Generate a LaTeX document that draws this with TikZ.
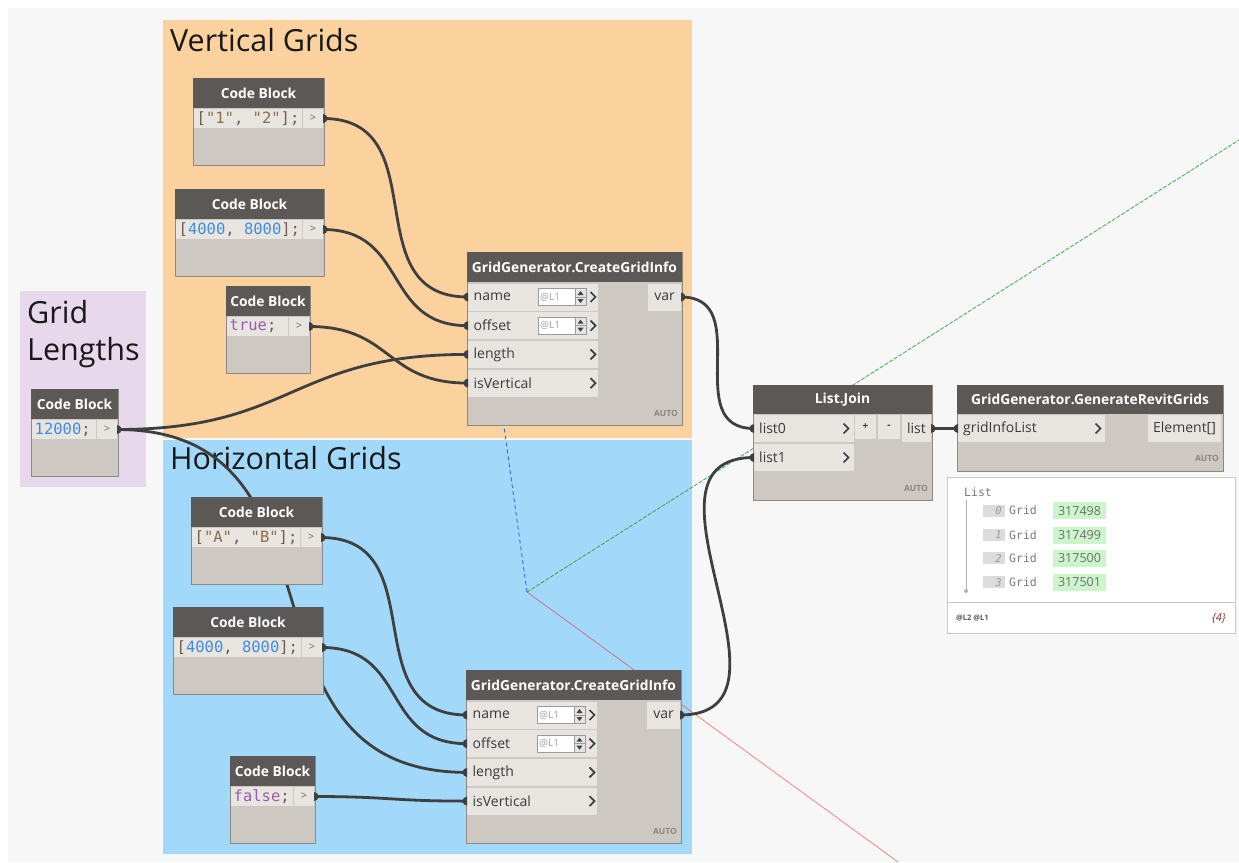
\documentclass[tikz,border=0pt]{standalone}
\usepackage{fontspec}
\setmainfont{Open Sans}
\newfontfamily\codefont{DejaVu Sans Mono}
\pgfdeclarelayer{groups}
\pgfdeclarelayer{wires}
\pgfsetlayers{groups,wires,main}
\definecolor{canvas}{HTML}{F7F7F7}
\definecolor{grpO}{HTML}{FBD29E}
\definecolor{grpB}{HTML}{A2D8F9}
\definecolor{grpL}{HTML}{E7D8EB}
\definecolor{hdrc}{HTML}{5B5856}
\definecolor{nbodyc}{HTML}{CDC8C1}
\definecolor{rowc}{HTML}{E8E5E1}
\definecolor{nborder}{HTML}{8C8883}
\definecolor{wirec}{HTML}{3F3F3F}
\definecolor{labc}{HTML}{3A3A3A}
\definecolor{chevc}{HTML}{3A3D44}
\definecolor{autoc}{HTML}{8A8580}
\definecolor{outgray}{HTML}{6A6A6A}
\definecolor{cstr}{HTML}{8C6D46}
\definecolor{cpunct}{HTML}{6A5C4E}
\definecolor{cnum}{HTML}{3F8BE0}
\definecolor{cbool}{HTML}{9B5BB0}
\definecolor{lacec}{HTML}{9A9A9A}
\definecolor{spinbg}{HTML}{E4E4E4}
\definecolor{lacetc}{HTML}{A0A0A0}
\definecolor{watchbd}{HTML}{C8C8C8}
\definecolor{idxc}{HTML}{DCDCDC}
\definecolor{idxtc}{HTML}{9A9A9A}
\definecolor{valc}{HTML}{CCF5CC}
\definecolor{valtc}{HTML}{6E6E6E}
\definecolor{listtc}{HTML}{7A7A7A}
\definecolor{countc}{HTML}{8B2E2E}
\definecolor{axblue}{HTML}{2A5BFF}
\definecolor{axgreen}{HTML}{1E9E2A}
\definecolor{axred}{HTML}{FF1E1E}
\newcommand\hdrfont{\bfseries\fontsize{13.8}{15}\selectfont}
\newcommand\portfont{\fontsize{14}{16}\selectfont}
\newcommand\codesize{\codefont\fontsize{15.5}{17}\selectfont}
\newcommand\autofont{\bfseries\fontsize{8.5}{9}\selectfont}
\newcommand\titlefont{\fontsize{30.5}{32}\selectfont}
\tikzset{
  nbody/.style={draw=nborder, line width=1pt, fill=nbodyc, anchor=north west, inner sep=0pt, outer sep=0pt},
  nhdr/.style={fill=hdrc, text=white, anchor=north west, inner sep=0pt, outer sep=0pt, font=\hdrfont},
  crow/.style={fill=rowc, minimum height=19pt, anchor=north west, inner sep=0pt, outer sep=0pt},
  prow/.style={fill=rowc, minimum height=27pt, anchor=north west, inner sep=0pt, outer sep=0pt, font=\portfont, text=labc},
  plabel/.style={anchor=west, inner sep=0pt, font=\portfont, text=labc},
  codetxt/.style={anchor=west, inner sep=0pt, font=\codesize},
  autotxt/.style={anchor=east, inner sep=0pt, font=\autofont, text=autoc},
  chevst/.style={draw=chevc, line width=1.7pt},
  wirest/.style={draw=wirec, line width=2.8pt},
  gtitle/.style={anchor=base west, inner sep=0pt, font=\titlefont, text=black!90},
  lacebd/.style={draw=lacec, line width=0.6pt},
  lacetxt/.style={anchor=west, inner sep=0pt, font=\fontsize{10}{11}\selectfont, text=lacetc},
  grp/.style={anchor=north west, inner sep=0pt, outer sep=0pt},
  idxbox/.style={fill=idxc, minimum width=22pt, minimum height=12pt, inner sep=0pt},
  idxtxt/.style={anchor=east, inner sep=0pt, font=\codefont\itshape\fontsize{10.5}{11}\selectfont, text=idxtc},
  gridtxt/.style={anchor=west, inner sep=0pt, font=\codefont\fontsize{11.5}{12}\selectfont, text=listtc},
  valbox/.style={fill=valc, minimum width=53pt, minimum height=17pt, inner sep=0pt, font=\fontsize{12.5}{13}\selectfont, text=valtc},
}
\newcommand\outport[1]{\fill[wirec] ([yshift=4.5pt]#1) arc[start angle=90,end angle=-90,radius=4.5pt] -- cycle;}
\newcommand\inport[1]{\fill[wirec] ([yshift=4.5pt]#1) arc[start angle=90,end angle=270,radius=4.5pt] -- cycle;}
\newcommand\chev[2]{\draw[chevst] ({#1-3.5},{#2-5}) -- ({#1+1.5},{#2}) -- ({#1-3.5},{#2+5});}
\newcommand\lacing[3]{%
  \draw[lacebd, fill=white] (#1,#2) rectangle ({#1+48},{#2+17});
  \node[lacetxt] (#3) at ({#1+2},{#2+8.5}) {@L1};
  \draw[lacebd, fill=spinbg] ({#1+37},#2) rectangle ({#1+48},{#2+17});
  \draw[lacebd] ({#1+37},{#2+8.5}) -- ({#1+48},{#2+8.5});
  \fill[black!75] ({#1+42.5},{#2+2.5}) -- ({#1+39.5},{#2+6.5}) -- ({#1+45.5},{#2+6.5}) -- cycle;
  \fill[black!75] ({#1+42.5},{#2+14.5}) -- ({#1+39.5},{#2+10.5}) -- ({#1+45.5},{#2+10.5}) -- cycle;
}
\newcommand\cblock[5]{%
  \node[nbody, minimum width=#4pt, minimum height=87pt] (#1) at (#2,#3) {};
  \node[nhdr, minimum width=#4pt, minimum height=30pt] (#1-h) at (#2,#3) {Code Block};
  \node[crow, minimum width=#4pt-23pt] (#1-row) at ({#2+1},{#3+31}) {};
  \node[codetxt] (#1-code) at ([xshift=2.5pt]#1-row.west) {#5};
  \node[crow, minimum width=20pt, text=outgray, font=\fontsize{11}{12}\selectfont] (#1-out) at ({#2+#4-21},{#3+31}) {>};
}
\newcommand\cgi[3]{%
  \node[nbody, minimum width=215pt, minimum height=173pt] (#1) at (#2,#3) {};
  \node[nhdr, minimum width=215pt, minimum height=30pt] (#1-h) at (#2,#3) {GridGenerator.CreateGridInfo};
  \node[prow, minimum width=130pt] (#1-name) at ({#2+1},{#3+31.5}) {};
  \node[prow, minimum width=130pt] (#1-offset) at ({#2+1},{#3+60.2}) {};
  \node[prow, minimum width=130pt] (#1-length) at ({#2+1},{#3+88.9}) {};
  \node[prow, minimum width=130pt] (#1-isv) at ({#2+1},{#3+117.6}) {};
  \node[plabel] (#1-tname) at ([xshift=5.5pt]#1-name.west) {name};
  \node[plabel] (#1-toffset) at ([xshift=5.5pt]#1-offset.west) {offset};
  \node[plabel] (#1-tlength) at ([xshift=5.5pt]#1-length.west) {length};
  \node[plabel] (#1-tisv) at ([xshift=5.5pt]#1-isv.west) {isVertical};
  \chev{#2+127}{#3+45}
  \chev{#2+127}{#3+73.7}
  \chev{#2+127}{#3+102.4}
  \chev{#2+127}{#3+131.1}
  \lacing{#2+71}{#3+36.5}{#1-l1}
  \lacing{#2+71}{#3+65.2}{#1-l2}
  \node[prow, minimum width=33pt] (#1-var) at ({#2+181},{#3+31.5}) {var};
  \node[autotxt] (#1-auto) at ({#2+211},{#3+161}) {AUTO};
}
\begin{document}
\begin{tikzpicture}[x=1pt, y=-1pt]
\useasboundingbox (0,0) rectangle (1239,862);

% background and groups
\begin{pgfonlayer}{groups}
\fill[white] (0,0) rectangle (1239,862);
\fill[canvas] (8,8) rectangle (1239,862);
\node[grp, fill=grpO, minimum width=529pt, minimum height=418pt] (gV) at (163,20) {};
\node[grp, fill=grpB, minimum width=529pt, minimum height=414pt] (gH) at (163,440) {};
\node[grp, fill=grpL, minimum width=126pt, minimum height=196pt] (gL) at (20,291) {};
\node[gtitle] (tV) at (170,51) {Vertical Grids};
\node[gtitle] (tH) at (170,469) {Horizontal Grids};
\node[gtitle] (tL1) at (27,323) {Grid};
\node[gtitle] (tL2) at (27,360) {Lengths};
\end{pgfonlayer}

% code blocks
\cblock{cb1}{193}{78}{131}{\textcolor{cpunct}{[}\textcolor{cstr}{"1"}\textcolor{cpunct}{, }\textcolor{cstr}{"2"}\textcolor{cpunct}{];}}
\cblock{cb2}{175}{189}{149}{\textcolor{cpunct}{[}\textcolor{cnum}{4000}\textcolor{cpunct}{, }\textcolor{cnum}{8000}\textcolor{cpunct}{];}}
\cblock{cb3}{226}{286}{84}{\textcolor{cbool}{true}\textcolor{cpunct}{;}}
\cblock{cbl}{31}{389}{87}{\textcolor{cnum}{12000}\textcolor{cpunct}{;}}
\cblock{cb4}{191}{497}{131}{\textcolor{cpunct}{[}\textcolor{cstr}{"A"}\textcolor{cpunct}{, }\textcolor{cstr}{"B"}\textcolor{cpunct}{];}}
\cblock{cb5}{173}{607}{150}{\textcolor{cpunct}{[}\textcolor{cnum}{4000}\textcolor{cpunct}{, }\textcolor{cnum}{8000}\textcolor{cpunct}{];}}
\cblock{cb6}{230}{756}{85}{\textcolor{cbool}{false}\textcolor{cpunct}{;}}

% CreateGridInfo nodes
\cgi{vgi}{467}{252}
\cgi{hgi}{466}{670}

% List.Join
\node[nbody, minimum width=179pt, minimum height=115pt] (join) at (753,385) {};
\node[nhdr, minimum width=179pt, minimum height=29pt] (join-h) at (753,385) {List.Join};
\node[prow, minimum width=100pt] (join-l0) at (754,415) {};
\node[prow, minimum width=100pt] (join-l1) at (754,444) {};
\node[plabel] (join-t0) at ([xshift=5pt]join-l0.west) {list0};
\node[plabel] (join-t1) at ([xshift=5pt]join-l1.west) {list1};
\chev{847}{428.5}
\chev{847}{457.5}
\node[prow, minimum width=21pt, minimum height=24pt, font=\bfseries\fontsize{10}{10}\selectfont] (join-plus) at (855,415) {+};
\node[prow, minimum width=22pt, minimum height=24pt, font=\bfseries\fontsize{10}{10}\selectfont] (join-minus) at (878,415) {-};
\node[prow, minimum width=29pt] (join-out) at (902,415) {list};
\node[autotxt] (join-auto) at (928,488) {AUTO};

% GenerateRevitGrids
\node[nbody, minimum width=266pt, minimum height=86pt] (grg) at (957,385) {};
\node[nhdr, minimum width=266pt, minimum height=29pt] (grg-h) at (957,385) {GridGenerator.GenerateRevitGrids};
\node[prow, minimum width=147pt] (grg-in) at (958,415) {};
\node[plabel] (grg-t) at ([xshift=5pt]grg-in.west) {gridInfoList};
\chev{1099}{428.5}
\node[prow, minimum width=73pt] (grg-out) at (1148,415) {Element[]};
\node[autotxt] (grg-auto) at (1219,458) {AUTO};

% watch preview
\node[grp, draw=watchbd, fill=white, line width=0.8pt, minimum width=288pt, minimum height=156pt] (watch) at (947,477) {};
\draw[watchbd, line width=0.8pt] (947,602) -- (1235,602);
\node[gridtxt] (wlist) at (964,492.5) {List};
\draw[black!30, line width=0.8pt] (966,500) -- (966,590);
\fill[black!30] (966,591) circle[radius=2pt];
\foreach \i/\yy/\v in {0/510.7/317498, 1/535/317499, 2/558.3/317500, 3/582.3/317501} {
  \node[idxbox] (idx\i) at (994,\yy) {};
  \node[idxtxt] (idxt\i) at (1002,\yy) {\i};
  \node[gridtxt] (gt\i) at (1009,\yy) {Grid};
  \node[valbox] (val\i) at (1079.5,\yy) {\v};
}
\node[anchor=west, inner sep=0pt, font=\bfseries\fontsize{7.5}{8}\selectfont, text=black!65] (wlev) at (956,618) {@L2 @L1};
\node[anchor=east, inner sep=0pt, font=\itshape\fontsize{11}{12}\selectfont, text=countc] (wcount) at (1226,618) {\{4\}};

% axes and wires (under nodes)
\begin{pgfonlayer}{wires}
\coordinate (axo) at (527,592);
\coordinate (axb) at (486.3,300);
\coordinate (axg) at (1239,140);
\coordinate (axr) at (898,862);
\draw[axblue, line width=0.8pt, dash pattern=on 4pt off 3pt] (axo) -- (axb);
\draw[axgreen, line width=0.8pt, dash pattern=on 4pt off 1.5pt, opacity=0.85] (axo) -- (axg);
\draw[axred, line width=0.7pt, opacity=0.6] (axo) -- (axr);
\draw[wirest] (cb1-out.east) .. controls +(115,0) and +(-115,0) .. (vgi-name.west);
\draw[wirest] (cb2-out.east) .. controls +(86,0) and +(-86,0) .. (vgi-offset.west);
\draw[wirest] (cb3-out.east) .. controls +(84,0) and +(-84,0) .. (vgi-isv.west);
\draw[wirest] (cbl-out.east) .. controls +(178,0) and +(-178,0) .. (vgi-length.west);
\draw[wirest] (cbl-out.east) .. controls +(245,0) and +(-245,0) .. (hgi-length.west);
\draw[wirest] (cb4-out.east) .. controls +(115,0) and +(-115,0) .. (hgi-name.west);
\draw[wirest] (cb5-out.east) .. controls +(87,0) and +(-87,0) .. (hgi-offset.west);
\draw[wirest] (cb6-out.east) .. controls +(76,0) and +(-76,0) .. (hgi-isv.west);
\draw[wirest] (vgi-var.east) .. controls +(75,0) and +(-75,0) .. (join-l0.west);
\draw[wirest] (hgi-var.east) .. controls +(134,0) and +(-134,0) .. (join-l1.west);
\draw[wirest] (join-out.east) -- (grg-in.west);
\end{pgfonlayer}

% port markers
\outport{cb1-out.east}
\outport{cb2-out.east}
\outport{cb3-out.east}
\outport{cbl-out.east}
\outport{cb4-out.east}
\outport{cb5-out.east}
\outport{cb6-out.east}
\outport{vgi-var.east}
\outport{hgi-var.east}
\outport{join-out.east}
\inport{vgi-name.west}
\inport{vgi-offset.west}
\inport{vgi-length.west}
\inport{vgi-isv.west}
\inport{hgi-name.west}
\inport{hgi-offset.west}
\inport{hgi-length.west}
\inport{hgi-isv.west}
\inport{join-l0.west}
\inport{join-l1.west}
\inport{grg-in.west}
\end{tikzpicture}
\end{document}
